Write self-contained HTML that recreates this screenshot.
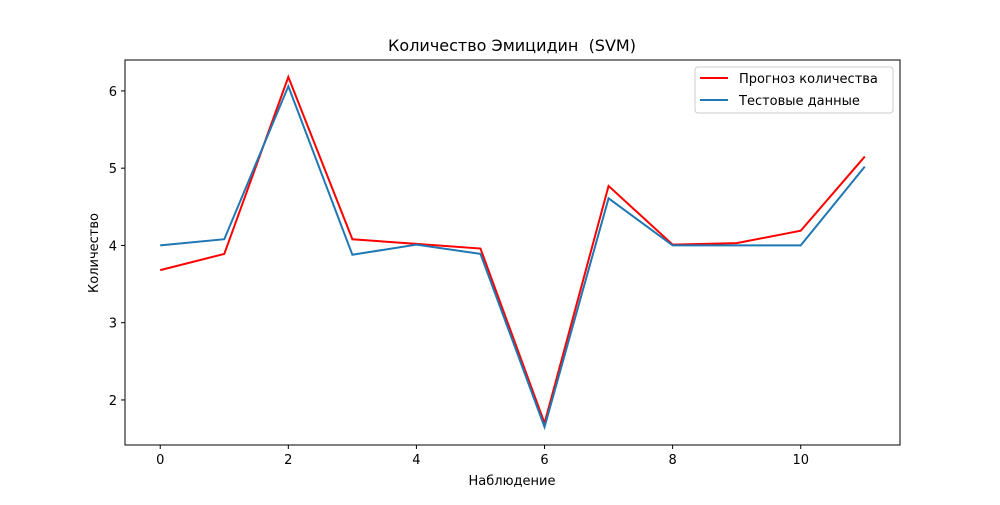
<!DOCTYPE html>
<html><head><meta charset="utf-8"><style>body{margin:0;background:#fff}svg text{font-family:"DejaVu Sans","Liberation Sans",sans-serif}</style></head>
<body>
<svg id="chart" width="1000" height="500" xmlns="http://www.w3.org/2000/svg">
<rect width="1000" height="500" fill="#fff"/>
<text x="512" y="51" font-size="16" text-anchor="middle" xml:space="preserve" style="white-space:pre">Количество Эмицидин  (SVM)</text>
<g id="axes"></g>
<text x="512" y="485" font-size="13" text-anchor="middle">Наблюдение</text>
<text transform="translate(98,253) rotate(-90)" font-size="13" text-anchor="middle">Количество</text>
<g>
<rect x="695" y="67" width="198" height="46" fill="#fff" stroke="#ccc" rx="3"/>
<line x1="700" y1="78" x2="728" y2="78" stroke="red" stroke-width="2"/>
<text x="739" y="83" font-size="13">Прогноз количества</text>
<line x1="700" y1="100" x2="728" y2="100" stroke="#1f77b4" stroke-width="2"/>
<text x="739" y="105" font-size="13">Тестовые данные</text>
</g>
</svg>
<script>
const xs = [0,1,2,3,4,5,6,7,8,9,10,11];
const forecast = [3.68,3.89,6.18,4.08,4.02,3.96,1.70,4.77,4.01,4.03,4.19,5.15];
const testData = [4.00,4.08,6.06,3.88,4.01,3.89,1.65,4.61,4.00,4.00,4.00,5.02];
const xTicks = [0,2,4,6,8,10];
const yTicks = [2,3,4,5,6];
const L=125,R=900,T=60,B=445,xMin=-0.55,xMax=11.55,yMin=1.417,yMax=6.40;
const sx=v=>L+(v-xMin)/(xMax-xMin)*(R-L);
const sy=v=>B-(v-yMin)/(yMax-yMin)*(B-T);
const ns="http://www.w3.org/2000/svg";
const g=document.getElementById('axes');
function mk(t,a){const e=document.createElementNS(ns,t);for(const k in a)e.setAttribute(k,a[k]);g.appendChild(e);return e;}
function series(vals,color,name){
  const p=mk('polyline',{points:xs.map((x,i)=>sx(x)+','+sy(vals[i])).join(' '),fill:'none',stroke:color,'stroke-width':2});
  
  
}
series(forecast,'red','forecast-line');
series(testData,'#1f77b4','test-data-line');
const fr=mk('rect',{x:L,y:T,width:R-L,height:B-T,fill:'none',stroke:'#000','stroke-width':1});


xTicks.forEach(t=>{
  mk('line',{x1:sx(t),x2:sx(t),y1:B,y2:B+4,stroke:'#000'});
  const tx=mk('text',{x:sx(t),y:B+19,'font-size':13,'text-anchor':'middle'});tx.textContent=t;
  
  
});
yTicks.forEach(t=>{
  mk('line',{x1:L-4,x2:L,y1:sy(t),y2:sy(t),stroke:'#000'});
  const tx=mk('text',{x:L-8,y:sy(t)+5,'font-size':13,'text-anchor':'end'});tx.textContent=t;
  
  
});
</script>
</body></html>
